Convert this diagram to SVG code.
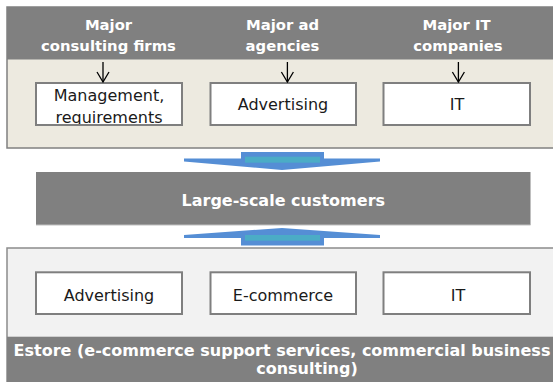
<svg xmlns="http://www.w3.org/2000/svg" width="553" height="382" viewBox="0 0 553 382">
<defs>
<style>
.hdr{font-family:"DejaVu Sans","Liberation Sans",sans-serif;font-weight:bold;font-size:14.8px;fill:#ffffff;text-anchor:middle}
.big{font-family:"DejaVu Sans","Liberation Sans",sans-serif;font-weight:bold;font-size:16px;fill:#ffffff;text-anchor:middle}
.lbl{font-family:"DejaVu Sans","Liberation Sans",sans-serif;font-size:16px;fill:#1a1a1a;text-anchor:middle}
.box{fill:#ffffff;stroke:#7f7f7f;stroke-width:2}
.gray{fill:#808080}
.conn{stroke:#000000;stroke-width:1.3;fill:none}
.blue{fill:#558ED5}
.teal{fill:#4BACC6}
</style>
<marker id="vhead" viewBox="-1 -7 12 14" refX="10" refY="0" markerWidth="12" markerHeight="14" markerUnits="userSpaceOnUse" orient="auto">
<path d="M0,-6 L10,0 L0,6" fill="none" stroke="#000000" stroke-width="1.3"/>
</marker>
<clipPath id="clipBox1"><rect x="36" y="83" width="146" height="42"/></clipPath>
</defs>

<g id="top-panel">
<rect x="7" y="7" width="560" height="141" fill="#EDEAE0" stroke="#808080" stroke-width="1.5"/>
<rect x="7" y="7" width="560" height="52.5" class="gray"/>
<text class="hdr" x="108.5" y="30">Major</text>
<text class="hdr" x="108.5" y="50.5">consulting firms</text>
<text class="hdr" x="282.5" y="30">Major ad</text>
<text class="hdr" x="282.5" y="50.5">agencies</text>
<text class="hdr" x="456.5" y="30">Major IT</text>
<text class="hdr" x="458" y="50.5">companies</text>
</g>

<g id="box-management">
<rect x="36" y="83" width="146" height="42" class="box"/>
<g clip-path="url(#clipBox1)">
<text class="lbl" x="109" y="100.5">Management,</text>
<text class="lbl" x="109" y="123">requirements</text>
</g>
<rect x="36" y="83" width="146" height="42" fill="none" stroke="#7f7f7f" stroke-width="2"/>
</g>

<g id="box-advertising-top">
<rect x="210.5" y="83" width="145.5" height="42" class="box"/>
<text class="lbl" x="283" y="110">Advertising</text>
</g>

<g id="box-it-top">
<rect x="383.5" y="83" width="146.5" height="42" class="box"/>
<text class="lbl" x="457" y="110">IT</text>
</g>

<g id="customers">
<rect x="36" y="172" width="494.5" height="53" class="gray"/>
<line x1="36" y1="225" x2="530.5" y2="225" stroke="#c0c0c0" stroke-width="1"/>
<text class="big" x="283.3" y="205.5">Large-scale customers</text>
</g>

<g id="bottom-panel">
<rect x="7" y="248" width="560" height="140" fill="#F2F2F2" stroke="#8c8c8c" stroke-width="1.5"/>
<rect x="7" y="336.7" width="560" height="50" class="gray"/>
<text class="big" x="282" y="355.5">Estore (e-commerce support services, commercial business</text>
<text class="big" x="307" y="373.5">consulting)</text>
</g>

<g id="box-advertising-bottom">
<rect x="36" y="272.3" width="146" height="41.7" class="box"/>
<text class="lbl" x="109" y="300.5">Advertising</text>
</g>

<g id="box-ecommerce">
<rect x="210.5" y="272.3" width="145.5" height="41.7" class="box"/>
<text class="lbl" x="283" y="300.5">E-commerce</text>
</g>

<g id="box-it-bottom">
<rect x="383.5" y="272.3" width="146.5" height="41.7" class="box"/>
<text class="lbl" x="458" y="300.5">IT</text>
</g>

<g id="connectors">
<line class="conn" x1="103" y1="62" x2="103" y2="82" marker-end="url(#vhead)"/>
<line class="conn" x1="287.4" y1="62" x2="287.4" y2="82" marker-end="url(#vhead)"/>
<line class="conn" x1="458.4" y1="62" x2="458.4" y2="82" marker-end="url(#vhead)"/>
<g id="arrow-down">
<polygon class="blue" points="241,152 324,152 324,158.5 380,158.5 380,161.5 282,170 184,161.5 184,158.5 241,158.5"/>
<rect class="teal" x="245" y="156.7" width="75" height="6"/>
</g>
<g id="arrow-up">
<polygon class="blue" points="282,228 380,235 380,238 324,238 324,245.5 241,245.5 241,238 184,238 184,235"/>
<rect class="teal" x="245" y="235" width="75" height="5.7"/>
</g>
</g>
</svg>
